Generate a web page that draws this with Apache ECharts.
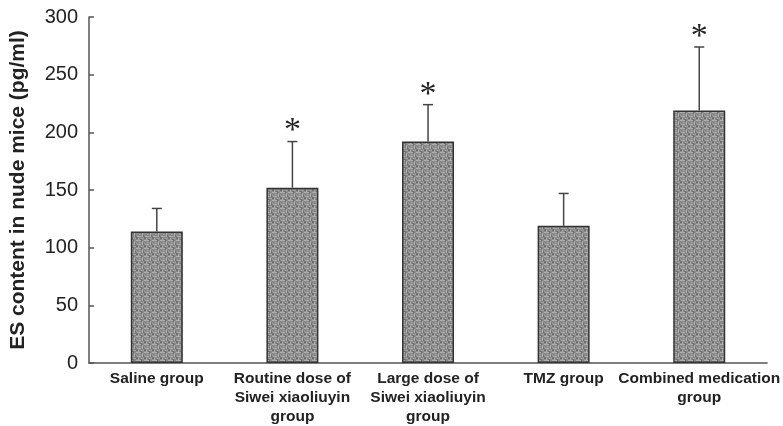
<!DOCTYPE html>
<html>
<head>
<meta charset="utf-8">
<script src="https://cdn.jsdelivr.net/npm/echarts@6/dist/echarts.min.js"></script>
<style>
  html, body { margin: 0; padding: 0; background: #fff; }
  #chart { width: 783px; height: 426px; }
</style>
</head>
<body>
<div id="chart"></div>
<script>
const categories = [
  "Saline group",
  "Routine dose of\nSiwei xiaoliuyin\ngroup",
  "Large dose of\nSiwei xiaoliuyin\ngroup",
  "TMZ group",
  "Combined medication\ngroup"
];
const means = [114, 152, 192, 119, 219];
const errorTops = [134, 192, 224, 147, 274];
const marks = ["", "*", "*", "", "*"];

// grey woven texture for the bars
const tile = document.createElement("canvas");
tile.width = 8;
tile.height = 8;
const tctx = tile.getContext("2d");
tctx.fillStyle = "#8a8a8a";
tctx.fillRect(0, 0, 8, 8);
tctx.fillStyle = "#adadad";
tctx.fillRect(0, 0, 5, 1);
tctx.fillRect(6, 1, 1, 4);
tctx.fillRect(1, 4, 4, 1);
tctx.fillRect(2, 6, 1, 2);
tctx.fillStyle = "#9c9c9c";
tctx.fillRect(3, 2, 2, 1);
tctx.fillRect(5, 6, 3, 1);
tctx.fillStyle = "#707070";
tctx.fillRect(5, 0, 1, 2);
tctx.fillRect(0, 5, 2, 2);
tctx.fillRect(4, 7, 2, 1);
tctx.fillRect(7, 3, 1, 2);

const chart = echarts.init(document.getElementById("chart"));

chart.setOption({
  animation: false,
  backgroundColor: "#fff",
  grid: { left: 88, right: 15, top: 17, bottom: 63 },
  xAxis: {
    type: "category",
    data: categories,
    axisLine: { lineStyle: { color: "#555", width: 1.5 } },
    axisTick: { inside: true, length: 4, lineStyle: { color: "#555", width: 1.5 } },
    axisLabel: {
      interval: 0,
      margin: 6,
      color: "#222",
      fontFamily: "Liberation Sans",
      fontWeight: "bold",
      fontSize: 15.5,
      lineHeight: 19
    }
  },
  yAxis: {
    type: "value",
    min: 0,
    max: 300,
    interval: 50,
    name: "ES content in nude mice (pg/ml)",
    nameLocation: "middle",
    nameGap: 60,
    nameTextStyle: {
      color: "#222",
      fontFamily: "Liberation Sans",
      fontWeight: "bold",
      fontSize: 21
    },
    axisLine: { show: true, lineStyle: { color: "#555", width: 1.5 } },
    axisTick: { show: true, inside: true, length: 5, lineStyle: { color: "#555", width: 1.5 } },
    splitLine: { show: false },
    axisLabel: {
      margin: 11,
      color: "#222",
      fontFamily: "Liberation Sans",
      fontSize: 20
    }
  },
  series: [
    {
      type: "bar",
      data: means,
      barWidth: 52,
      itemStyle: {
        color: { image: tile, repeat: "repeat" },
        borderColor: "#333",
        borderWidth: 1.5
      }
    },
    {
      type: "custom",
      data: means.map((m, i) => [i, m, errorTops[i]]),
      renderItem: function (params, api) {
        const i = api.value(0);
        const base = api.coord([i, api.value(1)]);
        const top = api.coord([i, api.value(2)]);
        const children = [
          {
            type: "line",
            shape: { x1: base[0], y1: base[1], x2: top[0], y2: top[1] },
            style: { stroke: "#444", lineWidth: 1.5 }
          },
          {
            type: "line",
            shape: { x1: top[0] - 5, y1: top[1], x2: top[0] + 5, y2: top[1] },
            style: { stroke: "#444", lineWidth: 1.5 }
          }
        ];
        if (marks[i]) {
          children.push({
            type: "text",
            style: {
              text: marks[i],
              x: top[0],
              y: top[1] - 10,
              textAlign: "center",
              textVerticalAlign: "middle",
              font: "34px 'Liberation Serif'",
              fill: "#222"
            }
          });
        }
        return { type: "group", children: children };
      },
      z: 3
    }
  ]
});
</script>
</body>
</html>
